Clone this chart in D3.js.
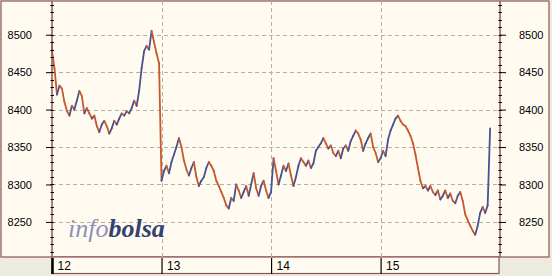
<!DOCTYPE html>
<html>
<head>
<meta charset="utf-8">
<script src="https://cdn.jsdelivr.net/npm/d3@7"></script>
<style>
  body { margin: 0; background: #fefaef; }
  svg { display: block; font-family: "Liberation Sans", Arial, sans-serif; }
</style>
</head>
<body>
<div id="container"></div>
<script>
/* DATA */
const dayLabels = [12, 13, 14, 15];
const yTicks = [8250, 8300, 8350, 8400, 8450, 8500];
const yMinorTicks = [8210, 8220, 8230, 8240, 8250, 8260, 8270, 8280, 8290, 8300, 8310, 8320, 8330, 8340,
  8350, 8360, 8370, 8380, 8390, 8400, 8410, 8420, 8430, 8440, 8450, 8460, 8470, 8480, 8490, 8500,
  8510, 8520, 8530, 8540];
const barsPerDay = 44;
const openPrice = 8490;
const day12 = [8478, 8455, 8420, 8432, 8428, 8410, 8398, 8392, 8405, 8400, 8412, 8425, 8418, 8395,
  8402, 8395, 8388, 8392, 8378, 8370, 8380, 8385, 8378, 8368, 8375, 8385, 8380, 8388, 8395, 8392,
  8398, 8395, 8402, 8412, 8405, 8425, 8455, 8478, 8485, 8480, 8505, 8490, 8475, 8462];
const day13 = [8305, 8318, 8325, 8315, 8330, 8340, 8350, 8362, 8350, 8332, 8320, 8312, 8322, 8330,
  8310, 8298, 8305, 8310, 8322, 8330, 8325, 8318, 8305, 8298, 8290, 8282, 8272, 8268, 8282, 8278,
  8300, 8292, 8282, 8290, 8298, 8285, 8300, 8315, 8295, 8285, 8298, 8305, 8292, 8282];
const day14 = [8290, 8335, 8318, 8300, 8312, 8325, 8318, 8328, 8312, 8298, 8310, 8325, 8335, 8330,
  8325, 8332, 8322, 8328, 8345, 8350, 8355, 8362, 8355, 8348, 8352, 8342, 8338, 8345, 8335, 8348,
  8352, 8345, 8358, 8365, 8372, 8368, 8360, 8345, 8355, 8362, 8368, 8350, 8342, 8330];
const day15 = [8335, 8345, 8338, 8360, 8372, 8380, 8388, 8392, 8385, 8380, 8378, 8372, 8365, 8355,
  8340, 8322, 8305, 8295, 8298, 8292, 8298, 8290, 8286, 8292, 8280, 8285, 8292, 8282, 8288, 8278,
  8275, 8285, 8290, 8278, 8260, 8252, 8245, 8238, 8233, 8245, 8262, 8270, 8262, 8272, 8375];

const closes = day12.concat(day13, day14, day15);
const bars = closes.map((c, i) => ({
  t: 12 + i / barsPerDay,
  tPrev: i === 0 ? 12 : 12 + (i - 1) / barsPerDay,
  prev: i === 0 ? openPrice : closes[i - 1],
  close: c
}));

/* CONSTANTS */
const width = 552, height = 276;
const plot = { left: 52, right: 500, top: 1, bottom: 257 };
const frame = "#8c5656";

const svg = d3.select("#container").append("svg")
  .attr("width", width).attr("height", height);

/* SCALES */
const xScale = d3.scaleLinear().domain([12, 16.09]).range([plot.left, plot.right]);
const yScale = d3.scaleLinear().domain([8204.5, 8545]).range([256, 1]);

// background pieces
svg.append("rect").attr("width", width).attr("height", height).attr("fill", "#ecebdf");
svg.append("rect").attr("x", 1).attr("y", 1).attr("width", 548).attr("height", 256)
  .attr("fill", "#fffbf0").attr("stroke", frame).attr("stroke-width", 1.2);
svg.append("rect").attr("x", plot.left).attr("y", 257).attr("width", plot.right - plot.left - 1).attr("height", 16.5)
  .attr("fill", "#fffbf0").attr("stroke", frame).attr("stroke-width", 1.2);

// gridlines
svg.append("g").selectAll("line").data(yTicks).join("line")
  .attr("x1", plot.left).attr("x2", plot.right)
  .attr("y1", d => Math.round(yScale(d)) + 0.5).attr("y2", d => Math.round(yScale(d)) + 0.5)
  .attr("stroke", "#b4b0a8").attr("stroke-dasharray", "4,3");
svg.append("g").selectAll("line").data(dayLabels.slice(1)).join("line")
  .attr("x1", d => Math.round(xScale(d)) + 0.5).attr("x2", d => Math.round(xScale(d)) + 0.5)
  .attr("y1", plot.top).attr("y2", plot.bottom)
  .attr("stroke", "#b4b0a8").attr("stroke-dasharray", "4,3");

// watermark
const wm = svg.append("text").attr("x", 68).attr("y", 237)
  .attr("font-family", "'Liberation Serif', 'DejaVu Serif', serif")
  .attr("font-style", "italic").attr("font-size", 26);
wm.append("tspan").attr("fill", "#8c92b4").text("info");
wm.append("tspan").attr("fill", "#34426f").attr("font-weight", "bold").text("bolsa");

// series: zigzag segments, blue up / red down
const up = "#4a5290", down = "#c8582c";
svg.append("g").attr("stroke-width", 1.8).attr("stroke-linecap", "round")
  .selectAll("line").data(bars).join("line")
  .attr("x1", d => xScale(d.tPrev)).attr("x2", d => xScale(d.t))
  .attr("y1", d => yScale(d.prev)).attr("y2", d => yScale(d.close))
  .attr("stroke", d => d.close >= d.prev ? up : down);

// axis lines
[plot.left, plot.right].forEach(x => {
  svg.append("line").attr("x1", x).attr("x2", x).attr("y1", 1).attr("y2", plot.bottom)
    .attr("stroke", frame).attr("stroke-width", 1.5);
});

// left axis
const yAxisL = d3.axisLeft(yScale).tickValues(yTicks).tickSize(6).tickPadding(14).tickFormat(d3.format("d"));
const gl = svg.append("g").attr("transform", `translate(${plot.left},0)`).call(yAxisL);
// right axis
const yAxisR = d3.axisRight(yScale).tickValues(yTicks).tickSize(6).tickPadding(13).tickFormat(d3.format("d"));
const gr = svg.append("g").attr("transform", `translate(${plot.right},0)`).call(yAxisR);
[gl, gr].forEach(g => {
  g.select(".domain").remove();
  g.selectAll(".tick line").attr("stroke", "#000");
  g.selectAll("text").attr("font-size", 11).attr("fill", "#000")
    .attr("font-family", "'Liberation Sans', Arial, sans-serif");
});

// minor ticks
svg.append("g").selectAll("line").data(yMinorTicks).join("line")
  .attr("x1", plot.left - 1.5).attr("x2", plot.left + 2)
  .attr("y1", d => Math.round(yScale(d)) + 0.5).attr("y2", d => Math.round(yScale(d)) + 0.5)
  .attr("stroke", "#000");
svg.append("g").selectAll("line").data(yMinorTicks).join("line")
  .attr("x1", plot.right - 1.5).attr("x2", plot.right + 2)
  .attr("y1", d => Math.round(yScale(d)) + 0.5).attr("y2", d => Math.round(yScale(d)) + 0.5)
  .attr("stroke", "#000");

// x axis (day labels)
const xAxis = d3.axisBottom(xScale).tickValues(dayLabels).tickSize(16).tickPadding(0).tickFormat(d3.format("d"));
const gx = svg.append("g").attr("transform", `translate(0,${plot.bottom + 1})`).call(xAxis);
gx.select(".domain").remove();
gx.selectAll(".tick line").attr("stroke", "#000").attr("stroke-width", (d, i) => i === 0 ? 2.5 : 1.2);
gx.selectAll(".tick text")
  .attr("text-anchor", "start").attr("x", 5).attr("y", 3).attr("dy", "0.71em")
  .attr("font-size", 12).attr("fill", "#000")
  .attr("font-family", "'Liberation Sans', Arial, sans-serif");
</script>
</body>
</html>
